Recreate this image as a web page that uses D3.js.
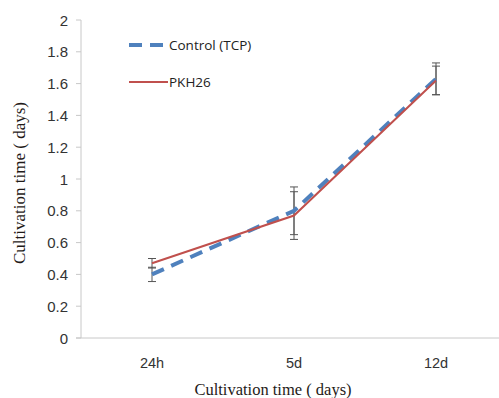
<!DOCTYPE html>
<html>
<head>
<meta charset="utf-8">
<script src="https://cdn.jsdelivr.net/npm/d3@7"></script>
<style>
    body { margin: 0; background: #fff; }
    svg { display: block; }
</style>
</head>
<body>
<div id="chart"></div>
<script>
const categories = ['24h', '5d', '12d'];
const controlValues = [0.40, 0.80, 1.63];
const controlErrors = [0.045, 0.15, 0.10];
const pkhValues = [0.47, 0.77, 1.62];
const pkhErrors = [0.03, 0.15, 0.09];
const yTicks = [0, 0.2, 0.4, 0.6, 0.8, 1, 1.2, 1.4, 1.6, 1.8, 2];

const width = 499, height = 398;
const margin = {top: 20, right: -8, bottom: 60, left: 81};

const svg = d3.select('#chart')
    .append('svg')
    .attr('width', width)
    .attr('height', height);

const x = d3.scaleBand()
    .domain(categories)
    .range([margin.left, width - margin.right]);

const y = d3.scaleLinear()
    .domain([0, 2])
    .range([height - margin.bottom, margin.top]);

const axisColor = '#c8c8c8';
const textColor = '#333';

// y axis
svg.append('line')
    .attr('x1', margin.left).attr('x2', margin.left)
    .attr('y1', y(0)).attr('y2', y(2))
    .attr('stroke', axisColor);

svg.selectAll('.ytick')
    .data(yTicks)
    .enter()
    .append('line')
    .attr('x1', margin.left - 5).attr('x2', margin.left)
    .attr('y1', d => y(d)).attr('y2', d => y(d))
    .attr('stroke', axisColor);

svg.selectAll('.ylabel')
    .data(yTicks)
    .enter()
    .append('text')
    .attr('x', 68)
    .attr('y', d => y(d))
    .attr('dominant-baseline', 'central')
    .attr('text-anchor', 'end')
    .attr('font-family', 'Liberation Sans, Arial, sans-serif')
    .attr('font-size', 15)
    .attr('fill', textColor)
    .text(d => d);

// x axis
svg.append('line')
    .attr('x1', margin.left - 5).attr('x2', width)
    .attr('y1', y(0)).attr('y2', y(0))
    .attr('stroke', axisColor);

svg.selectAll('.xlabel')
    .data(categories)
    .enter()
    .append('text')
    .attr('x', d => x(d) + x.bandwidth() / 2)
    .attr('y', 363)
    .attr('dominant-baseline', 'central')
    .attr('text-anchor', 'middle')
    .attr('font-family', 'Liberation Sans, Arial, sans-serif')
    .attr('font-size', 14.5)
    .attr('fill', textColor)
    .text(d => d);

// axis titles
svg.append('text')
    .attr('x', 273)
    .attr('y', 389)
    .attr('text-anchor', 'middle')
    .attr('dominant-baseline', 'central')
    .attr('font-family', 'Liberation Serif, Times New Roman, serif')
    .attr('font-size', 16.5)
    .attr('fill', '#1f1a18')
    .text('Cultivation time ( days)');

svg.append('text')
    .attr('transform', 'translate(19,183) rotate(-90)')
    .attr('text-anchor', 'middle')
    .attr('dominant-baseline', 'central')
    .attr('font-family', 'Liberation Serif, Times New Roman, serif')
    .attr('font-size', 17)
    .attr('fill', '#1f1a18')
    .text('Cultivation time ( days)');

const cx = d => x(d) + x.bandwidth() / 2;

function drawErrors(values, errors) {
    values.forEach((v, i) => {
        const px = cx(categories[i]);
        const g = svg.append('g').attr('stroke', '#555').attr('stroke-width', 1);
        g.append('line').attr('x1', px).attr('x2', px)
            .attr('y1', y(v - errors[i])).attr('y2', y(v + errors[i]));
        [v - errors[i], v + errors[i]].forEach(e => {
            g.append('line').attr('x1', px - 4).attr('x2', px + 4)
                .attr('y1', y(e)).attr('y2', y(e));
        });
    });
}

drawErrors(controlValues, controlErrors);
drawErrors(pkhValues, pkhErrors);

const line = d3.line()
    .x((d, i) => cx(categories[i]))
    .y(d => y(d));

svg.append('path')
    .datum(controlValues)
    .attr('d', line)
    .attr('fill', 'none')
    .attr('stroke', '#4f81bd')
    .attr('stroke-width', 4)
    .attr('stroke-dasharray', '13,8');

svg.append('path')
    .datum(pkhValues)
    .attr('d', line)
    .attr('fill', 'none')
    .attr('stroke', '#c0504d')
    .attr('stroke-width', 2);

// legend
const legendItems = [
    {label: 'Control (TCP)', color: '#4f81bd', w: 4, dash: '13,8', y: 45},
    {label: 'PKH26', color: '#c0504d', w: 2, dash: null, y: 82}
];

legendItems.forEach(item => {
    svg.append('line')
        .attr('x1', 129).attr('x2', 168)
        .attr('y1', item.y).attr('y2', item.y)
        .attr('stroke', item.color)
        .attr('stroke-width', item.w)
        .attr('stroke-dasharray', item.dash);
    svg.append('text')
        .attr('x', 169)
        .attr('y', item.y)
        .attr('dominant-baseline', 'central')
        .attr('font-family', 'Open Sans, Liberation Sans, sans-serif')
        .attr('font-size', 13.5)
        .attr('fill', '#222')
        .text(item.label);
});
</script>
</body>
</html>
